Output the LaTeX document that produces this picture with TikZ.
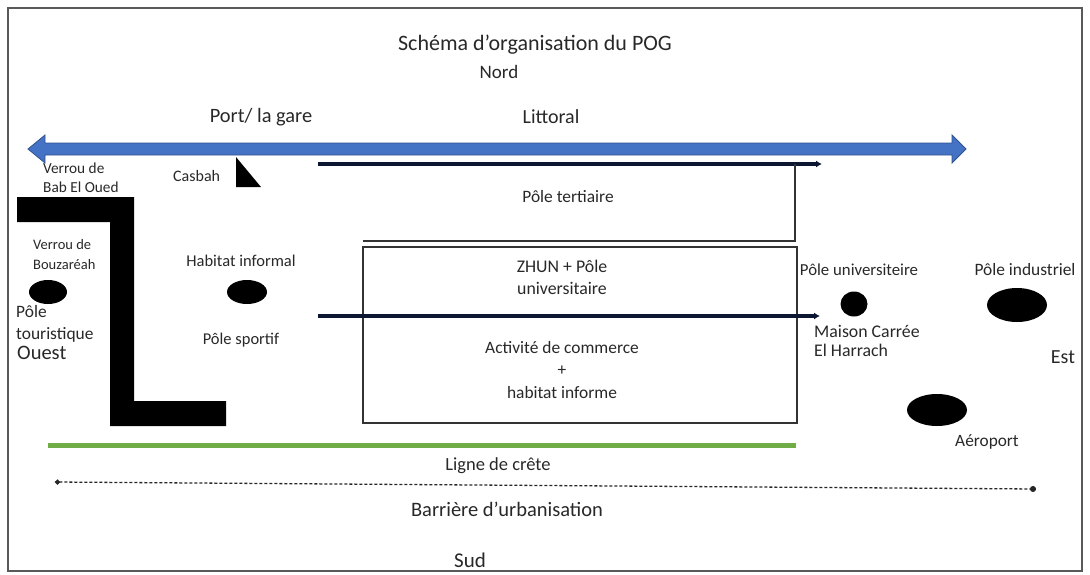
\documentclass[tikz,border=0pt]{standalone}
\usepackage{fontspec}
\setmainfont{Carlito}
\usetikzlibrary{arrows.meta,shapes.geometric}
\definecolor{blueband}{RGB}{68,114,196}
\definecolor{blueedge}{RGB}{47,82,143}
\definecolor{navy}{RGB}{12,22,48}
\definecolor{crest}{RGB}{112,173,71}
\definecolor{txt}{RGB}{40,40,40}
\tikzset{
  lbl/.style={inner sep=0pt, align=center, text=txt, font=\fontsize{17.4}{22}\selectfont},
  lblsmall/.style={inner sep=0pt, align=left, text=txt, font=\fontsize{15.3}{19}\selectfont},
  lblleft/.style={inner sep=0pt, align=left, text=txt, font=\fontsize{17.4}{22}\selectfont},
  blob/.style={fill=black, ellipse, inner sep=0pt},
  navyarrow/.style={draw=navy, line width=4pt, -{Latex[length=6pt,width=7pt]}},
  boxline/.style={draw=black!80, line width=1.3pt},
}
\begin{document}
\begin{tikzpicture}[x=1pt,y=-1pt]
\useasboundingbox (0,0) rectangle (1090,574);
% frame
\draw[black!65, line width=1.6pt] (8,8) rectangle (1082,571);

% titles
\node[lbl, font=\fontsize{22}{26}\selectfont] (title) at (535,45) {Schéma d’organisation du POG};
\node[lbl, font=\fontsize{19}{22}\selectfont] (nord) at (499,72) {Nord};
\node[lbl, font=\fontsize{20.4}{24}\selectfont] (port) at (261,117) {Port/ la gare};
\node[lbl, font=\fontsize{20}{24}\selectfont] (littoral) at (551,117) {Littoral};

% blue double arrow (littoral)
\fill[blueband, draw=blueedge, line width=0.8pt]
  (28,149) -- (45,135) -- (45,143) -- (952,143) -- (952,135) -- (966,149)
  -- (952,163) -- (952,155) -- (45,155) -- (45,163) -- cycle;

% upper navy arrow + Pole tertiaire
\coordinate (n1s) at (318,164);
\coordinate (n1e) at (822,164);
\draw[navyarrow] (n1s) -- (n1e);
\coordinate (ttr) at (795,164);
\coordinate (tbr) at (795,241);
\coordinate (tbl) at (363,241);
\draw[boxline] (ttr) -- (tbr) -- (tbl);
\node[lbl] (tertiaire) at (568,197) {Pôle tertiaire};

% lower box
\draw[boxline] (363,247) rectangle (797,423);
\node[lbl, font=\fontsize{17.8}{22}\selectfont] (zhun) at (562,277) {ZHUN + Pôle\\universitaire};
\node[lbl, font=\fontsize{17.4}{22.5}\selectfont] (commerce) at (562,370) {Activité de commerce\\+\\habitat informe};
\coordinate (n2s) at (318,316);
\coordinate (n2e) at (820,316);
\draw[navyarrow] (n2s) -- (n2e);

% left L-shaped barrier
\fill[black] (17,197) -- (134,197) -- (134,401) -- (226,401) -- (226,426)
  -- (110,426) -- (110,222) -- (17,222) -- cycle;

% Casbah triangle
\fill[black] (236,157) -- (236,187) -- (261,187) -- cycle;

% left labels
\node[lblsmall, anchor=west] (babeloued) at (43,178) {Verrou de\\Bab El Oued};
\node[lblsmall, anchor=west, font=\fontsize{16}{19}\selectfont] (casbah) at (173,176) {Casbah};
\node[lblsmall, anchor=west, font=\fontsize{14.5}{20}\selectfont] (bouzareah) at (33,255) {Verrou de\\Bouzaréah};
\node[blob, minimum width=38pt, minimum height=24pt] (tour) at (48,292) {};
\node[lblleft, anchor=west, font=\fontsize{17.4}{22}\selectfont] (touristique) at (16,324) {Pôle\\touristique};
\node[lblleft, anchor=west, font=\fontsize{20.5}{22}\selectfont] (ouest) at (17,353) {Ouest};

\node[lbl, font=\fontsize{16.5}{21}\selectfont] (habitat) at (241,261) {Habitat informal};
\node[blob, minimum width=40pt, minimum height=24pt] (sport) at (247,292) {};
\node[lbl, font=\fontsize{16.5}{21}\selectfont] (sportif) at (241,340) {Pôle sportif};

% right labels
\node[lbl, font=\fontsize{16.8}{21}\selectfont] (univ) at (859,270) {Pôle universiteire};
\node[blob, minimum width=27pt, minimum height=25pt] (maison) at (854,304) {};
\node[lblleft, anchor=west, font=\fontsize{17.8}{19}\selectfont] (harrach) at (814,341) {Maison Carrée\\El Harrach};
\node[lbl] (industriel) at (1025,270) {Pôle industriel};
\node[blob, minimum width=60pt, minimum height=34pt] (indus) at (1017,305) {};
\node[lbl, font=\fontsize{20}{22}\selectfont] (est) at (1063,357) {Est};
\node[blob, minimum width=60pt, minimum height=32pt] (aero) at (937,410) {};
\node[lbl, font=\fontsize{17.3}{21}\selectfont] (aeroport) at (987,442) {Aéroport};

% bottom lines
\coordinate (gs) at (48,445);
\coordinate (ge) at (796,445);
\draw[crest, line width=5pt] (gs) -- (ge);
\node[lbl, font=\fontsize{18.5}{22}\selectfont] (crete) at (498,466) {Ligne de crête};
\coordinate (bs) at (55,482);
\coordinate (be) at (1036,489);
\draw[black!85, line width=1.3pt, dash pattern=on 3pt off 2pt, {Circle[length=5pt]}-{Circle[length=6pt]}] (bs) -- (be);
\node[lbl, font=\fontsize{20.5}{24}\selectfont] (barriere) at (507,509) {Barrière d’urbanisation};
\node[lbl, font=\fontsize{21}{24}\selectfont] (sud) at (470,560) {Sud};
\end{tikzpicture}
\end{document}
